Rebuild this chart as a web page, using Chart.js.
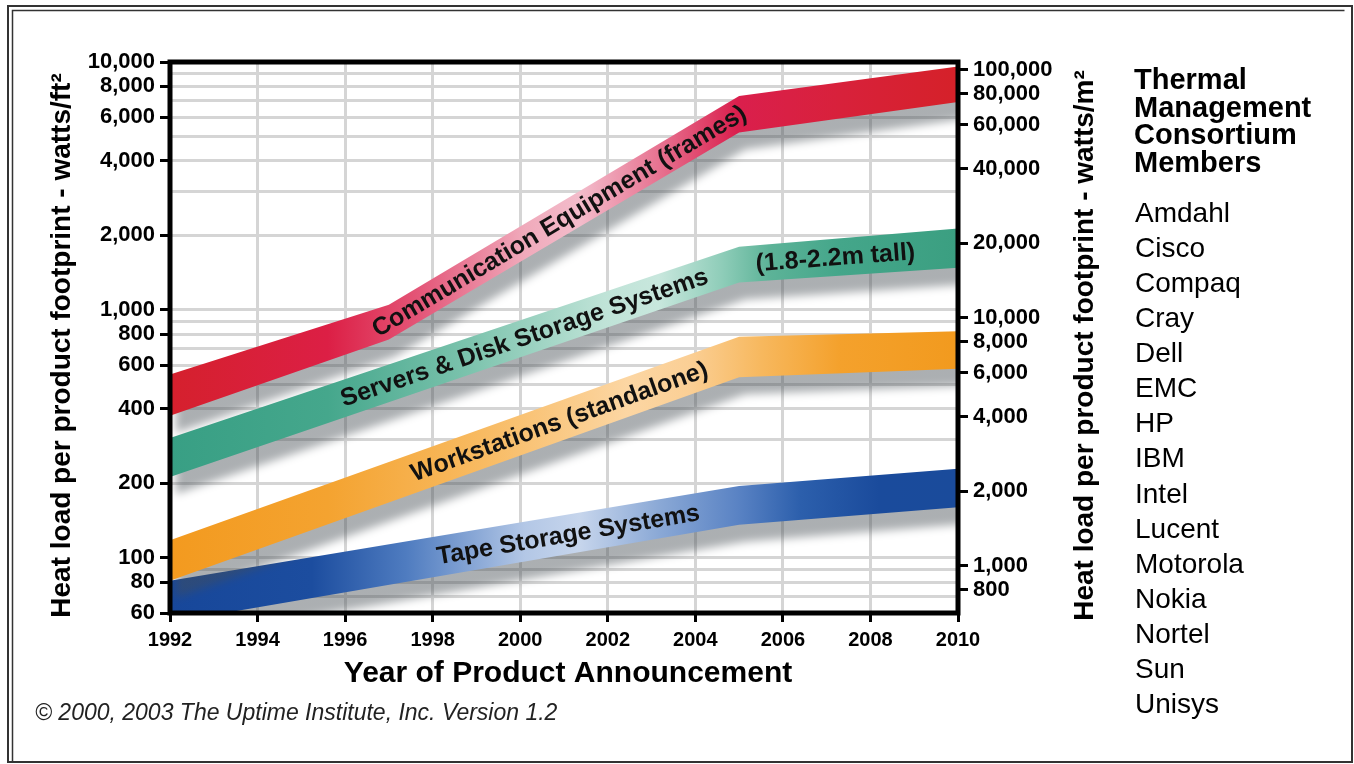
<!DOCTYPE html>
<html lang="en">
<head>
  <meta charset="utf-8">
  <title>Heat load per product footprint</title>
  <style>
    html, body { margin: 0; padding: 0; background: #fff; }
    #chart { display: block; }
  </style>
</head>
<body>
  <canvas id="chart" width="1354" height="764"></canvas>

  <script src="https://cdn.jsdelivr.net/npm/chart.js@4.4.1/dist/chart.umd.min.js"></script>
  <script>
    // Band edges, watts/ft²
    const bandYears = [1992, 2005, 2010];
    const commYears = [1992, 1997, 2005, 2010];
    const commHigh = [550, 1050, 7300, 9600];
    const commLow = [375, 760, 5200, 6900];
    const serverHigh = [305, 1800, 2130];
    const serverLow = [212, 1290, 1480];
    const workHigh = [118, 780, 820];
    const workLow = [81, 535, 580];
    const tapeHigh = [81, 195, 229];
    const tapeLow = [55, 136, 160];

    // Axes
    const yearTicks = [1992, 1994, 1996, 1998, 2000, 2002, 2004, 2006, 2008, 2010];
    const ftGrid = [60, 70, 80, 90, 100, 200, 300, 400, 500, 600, 700, 800, 900,
                    1000, 2000, 3000, 4000, 5000, 6000, 7000, 8000, 9000, 10000];
    const ftLabels = [60, 80, 100, 200, 400, 600, 800, 1000, 2000, 4000, 6000, 8000, 10000];
    const m2Labels = [800, 1000, 2000, 4000, 6000, 8000, 10000, 20000, 40000, 60000, 80000, 100000];
    const ftToM2 = 10.764;

    const members = ['Amdahl', 'Cisco', 'Compaq', 'Cray', 'Dell', 'EMC', 'HP', 'IBM',
                     'Intel', 'Lucent', 'Motorola', 'Nokia', 'Nortel', 'Sun', 'Unisys'];

    const FONT = '"Liberation Sans", Arial, Helvetica, sans-serif';

    // gradient stops along the x axis (0 = 1992, 1 = 2010)
    const commStops = [[0, '#d5202d'], [0.2, '#dc1f45'], [0.32, '#e4587a'], [0.45, '#f0aabb'],
                       [0.52, '#f3bccb'], [0.62, '#e77391'], [0.72, '#da1f4d'], [0.85, '#d8213b'], [1, '#d52129']];
    const serverStops = [[0, '#389f84'], [0.2, '#45a78c'], [0.38, '#7cc3ad'], [0.55, '#bfe3d7'],
                         [0.62, '#c8e7dd'], [0.7, '#8fcdb9'], [0.76, '#5db398'], [0.85, '#44a68a'], [1, '#3b9f81']];
    const workStops = [[0, '#f39a1f'], [0.2, '#f4a330'], [0.4, '#f8bb63'], [0.58, '#fcd6a3'],
                       [0.66, '#fbcf95'], [0.75, '#f7b85e'], [0.85, '#f4a12c'], [1, '#f29a1e']];
    const tapeStops = [[0, '#17479a'], [0.18, '#1c4d9f'], [0.3, '#4f7cc0'], [0.45, '#b3c7e6'],
                       [0.52, '#c6d5ec'], [0.62, '#8ba9d6'], [0.72, '#5a83c4'], [0.8, '#2c5fac'],
                       [0.9, '#1a4b9c'], [1, '#1a4b9b']];

    function gradient(stops) {
      return function(c) {
        const area = c.chart.chartArea;
        if (!area) return stops[0][1];
        const g = c.chart.ctx.createLinearGradient(area.left, 0, area.right, 0);
        stops.forEach(s => g.addColorStop(s[0], s[1]));
        return g;
      };
    }

    function band(years, low, high, stops) {
      const base = { borderColor: 'rgba(0,0,0,0)', borderWidth: 1, pointRadius: 0, tension: 0 };
      return [
        Object.assign({}, base, { data: years.map((x, i) => ({ x, y: low[i] })), fill: false }),
        Object.assign({}, base, { data: years.map((x, i) => ({ x, y: high[i] })), fill: '-1',
                                  backgroundColor: gradient(stops) })
      ];
    }

    // dataset index pairs: servers 0/1, comms 2/3, workstations 4/5, tape 6/7
    const bandLabels = [
      { text: 'Communication Equipment (frames)', low: 2, high: 3, year: 2000.9 },
      { text: 'Servers & Disk Storage Systems', low: 0, high: 1, year: 2000.1 },
      { text: '(1.8-2.2m tall)', low: 0, high: 1, year: 2007.2 },
      { text: 'Workstations (standalone)', low: 4, high: 5, year: 2000.9 },
      { text: 'Tape Storage Systems', low: 6, high: 7, year: 2001.1 }
    ];

    function edgeAt(meta, px) {
      const pts = meta.data;
      for (let i = 0; i < pts.length - 1; i++) {
        const a = pts[i], b = pts[i + 1];
        if (px >= a.x && px <= b.x) {
          const t = (px - a.x) / (b.x - a.x);
          return { y: a.y + t * (b.y - a.y), slope: (b.y - a.y) / (b.x - a.x) };
        }
      }
      return { y: pts[pts.length - 1].y, slope: 0 };
    }

    const decor = {
      id: 'decor',
      beforeDraw(chart) {
        const ctx = chart.ctx;
        ctx.save();
        ctx.fillStyle = '#fff';
        ctx.fillRect(0, 0, chart.width, chart.height);
        ctx.strokeStyle = '#333';
        ctx.lineWidth = 2;
        ctx.strokeRect(8, 6, 1344, 756);
        ctx.lineWidth = 1.5;
        ctx.beginPath();
        ctx.moveTo(12.5, 762);
        ctx.lineTo(12.5, 10.5);
        ctx.lineTo(1344.5, 10.5);
        ctx.stroke();
        ctx.restore();
      },
      beforeDatasetsDraw(chart) {
        const ctx = chart.ctx;
        ctx.save();
        ctx.shadowColor = 'rgba(70,78,84,0.45)';
        ctx.shadowBlur = 9;
        ctx.shadowOffsetX = 6;
        ctx.shadowOffsetY = 17;
      },
      afterDatasetsDraw(chart) {
        const ctx = chart.ctx;
        ctx.restore();
        const a = chart.chartArea;

        // band labels
        ctx.save();
        ctx.fillStyle = '#111';
        ctx.font = 'bold 25px ' + FONT;
        ctx.textAlign = 'center';
        ctx.textBaseline = 'middle';
        bandLabels.forEach(l => {
          const px = chart.scales.x.getPixelForValue(l.year);
          const lo = edgeAt(chart.getDatasetMeta(l.low), px);
          const hi = edgeAt(chart.getDatasetMeta(l.high), px);
          const ang = Math.atan((lo.slope + hi.slope) / 2);
          ctx.save();
          ctx.translate(px, (lo.y + hi.y) / 2 + 1);
          ctx.rotate(ang);
          ctx.fillText(l.text, 0, 0);
          ctx.restore();
        });
        ctx.restore();

        // plot frame
        ctx.save();
        ctx.strokeStyle = '#000';
        ctx.lineWidth = 5;
        ctx.strokeRect(a.left, a.top, a.right - a.left, a.bottom - a.top);
        ctx.restore();
      },
      afterDraw(chart) {
        const ctx = chart.ctx;
        const a = chart.chartArea;
        const midY = (a.top + a.bottom) / 2 + 8;
        ctx.save();
        ctx.fillStyle = '#000';
        ctx.textAlign = 'center';
        ctx.textBaseline = 'middle';
        ctx.font = 'bold 28px ' + FONT;
        ctx.save();
        ctx.translate(62, midY);
        ctx.rotate(-Math.PI / 2);
        ctx.fillText('Heat load per product footprint - watts/ft²', 0, 0);
        ctx.restore();
        ctx.save();
        ctx.translate(1085, midY);
        ctx.rotate(-Math.PI / 2);
        ctx.fillText('Heat load per product footprint - watts/m²', 0, 0);
        ctx.restore();

        ctx.font = 'bold 30px ' + FONT;
        ctx.fillText('Year of Product Announcement', (a.left + a.right) / 2 + 4, 674);

        // consortium list
        ctx.textAlign = 'left';
        ctx.textBaseline = 'alphabetic';
        ctx.font = 'bold 29px ' + FONT;
        ['Thermal', 'Management', 'Consortium', 'Members'].forEach((t, i) => {
          ctx.fillText(t, 1134, 89 + i * 27.7);
        });
        ctx.font = '28px ' + FONT;
        members.forEach((m, i) => ctx.fillText(m, 1135, 222 + i * 35.07));

        ctx.font = 'italic 23px ' + FONT;
        ctx.fillStyle = '#222';
        ctx.fillText('© 2000, 2003 The Uptime Institute, Inc. Version 1.2', 35, 720);
        ctx.restore();
      }
    };

    const xFont = { family: FONT, weight: 'bold', size: 20 };
    const yFont = { family: FONT, weight: 'bold', size: 22 };

    new Chart(document.getElementById('chart'), {
      type: 'line',
      data: {
        datasets: [
          ...band(bandYears, serverLow, serverHigh, serverStops),
          ...band(commYears, commLow, commHigh, commStops),
          ...band(bandYears, workLow, workHigh, workStops),
          ...band(bandYears, tapeLow, tapeHigh, tapeStops)
        ]
      },
      options: {
        responsive: false,
        animation: false,
        events: [],
        layout: { padding: { left: 0, top: 62, right: 246, bottom: 101 } },
        plugins: { legend: { display: false }, tooltip: { enabled: false } },
        scales: {
          x: {
            type: 'linear',
            min: 1992,
            max: 2010,
            afterBuildTicks: s => { s.ticks = yearTicks.map(v => ({ value: v })); },
            afterFit: s => { s.height = 50; },
            ticks: { font: xFont, color: '#000', padding: 6, autoSkip: false, maxRotation: 0,
                     callback: v => String(v) },
            grid: { color: '#d5d5d5', lineWidth: 3, tickColor: '#000', tickWidth: 3, tickLength: 9 },
            border: { display: false }
          },
          y: {
            type: 'logarithmic',
            position: 'left',
            min: 60,
            max: 10000,
            afterBuildTicks: s => { s.ticks = ftGrid.map(v => ({ value: v })); },
            afterFit: s => { s.width = 170; },
            ticks: { font: yFont, color: '#000', padding: 5, autoSkip: false,
                     callback: v => ftLabels.includes(v) ? v.toLocaleString('en-US') : '' },
            grid: {
              color: '#d5d5d5',
              lineWidth: 3,
              tickLength: 10,
              tickWidth: 3,
              tickColor: c => (c.tick && ftLabels.includes(c.tick.value)) ? '#000' : 'rgba(0,0,0,0)'
            },
            border: { display: false }
          },
          y2: {
            type: 'logarithmic',
            position: 'right',
            min: 60 * ftToM2,
            max: 10000 * ftToM2,
            afterBuildTicks: s => { s.ticks = m2Labels.map(v => ({ value: v })); },
            afterFit: s => { s.width = 150; },
            ticks: { font: yFont, color: '#000', padding: 5, autoSkip: false,
                     callback: v => v.toLocaleString('en-US') },
            grid: { drawOnChartArea: false, tickLength: 10, tickWidth: 3, tickColor: '#000' },
            border: { display: false }
          }
        }
      },
      plugins: [decor]
    });
  </script>
</body>
</html>
